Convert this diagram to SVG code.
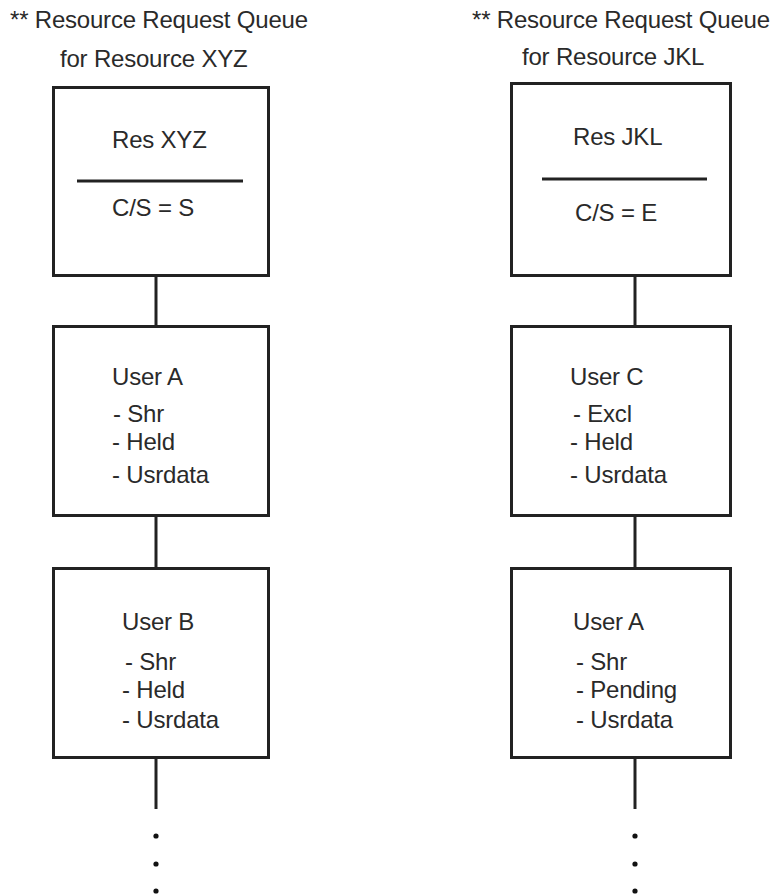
<svg xmlns="http://www.w3.org/2000/svg" width="774" height="895" viewBox="0 0 774 895">
<style>
.box{fill:#fff;stroke:#222;stroke-width:3}
.ln{stroke:#222;stroke-width:3;fill:none}
.dot{fill:#111}
text{font-family:"Liberation Sans",Arial,sans-serif;font-size:24px;letter-spacing:-0.2px;fill:#2a2a2a}
</style>
<rect width="774" height="895" fill="#fff"/>
<g id="title-left">
<text x="10" y="28">** Resource Request Queue</text>
<text x="60" y="67">for Resource XYZ</text>
</g>
<g id="title-right">
<text x="472" y="28">** Resource Request Queue</text>
<text x="522" y="65">for Resource JKL</text>
</g>
<g id="connectors">
<line class="ln" x1="156" y1="277" x2="156" y2="325"/>
<line class="ln" x1="156" y1="517" x2="156" y2="567"/>
<line class="ln" x1="156" y1="759" x2="156" y2="809"/>
<line class="ln" x1="635" y1="277" x2="635" y2="325"/>
<line class="ln" x1="635" y1="517" x2="635" y2="567"/>
<line class="ln" x1="635" y1="759" x2="635" y2="809"/>
<circle class="dot" cx="156" cy="836" r="2.6"/>
<circle class="dot" cx="156" cy="864" r="2.6"/>
<circle class="dot" cx="156" cy="891" r="2.6"/>
<circle class="dot" cx="635" cy="836" r="2.6"/>
<circle class="dot" cx="635" cy="864" r="2.6"/>
<circle class="dot" cx="635" cy="891" r="2.6"/>
</g>
<g id="res-xyz">
<rect class="box" x="53.5" y="87.5" width="215" height="188"/>
<text x="112" y="148">Res XYZ</text>
<line class="ln" x1="77" y1="181" x2="243" y2="181"/>
<text x="112" y="216">C/S = S</text>
</g>
<g id="res-jkl">
<rect class="box" x="511.5" y="83.5" width="219" height="192"/>
<text x="573" y="145">Res JKL</text>
<line class="ln" x1="542" y1="179" x2="707" y2="179"/>
<text x="575" y="221">C/S = E</text>
</g>
<g id="user-a-xyz">
<rect class="box" x="53.5" y="326.5" width="215" height="189"/>
<text x="112" y="385">User A</text>
<text x="113" y="422">- Shr</text>
<text x="112" y="450">- Held</text>
<text x="112" y="483">- Usrdata</text>
</g>
<g id="user-b-xyz">
<rect class="box" x="53.5" y="568.5" width="215" height="189"/>
<text x="122" y="630">User B</text>
<text x="125" y="670">- Shr</text>
<text x="122" y="698">- Held</text>
<text x="122" y="728">- Usrdata</text>
</g>
<g id="user-c-jkl">
<rect class="box" x="511.5" y="326.5" width="219" height="189"/>
<text x="570" y="385">User C</text>
<text x="573" y="422">- Excl</text>
<text x="570" y="450">- Held</text>
<text x="570" y="483">- Usrdata</text>
</g>
<g id="user-a-jkl">
<rect class="box" x="511.5" y="568.5" width="219" height="189"/>
<text x="573" y="630">User A</text>
<text x="576" y="670">- Shr</text>
<text x="576" y="698">- Pending</text>
<text x="576" y="728">- Usrdata</text>
</g>
</svg>
